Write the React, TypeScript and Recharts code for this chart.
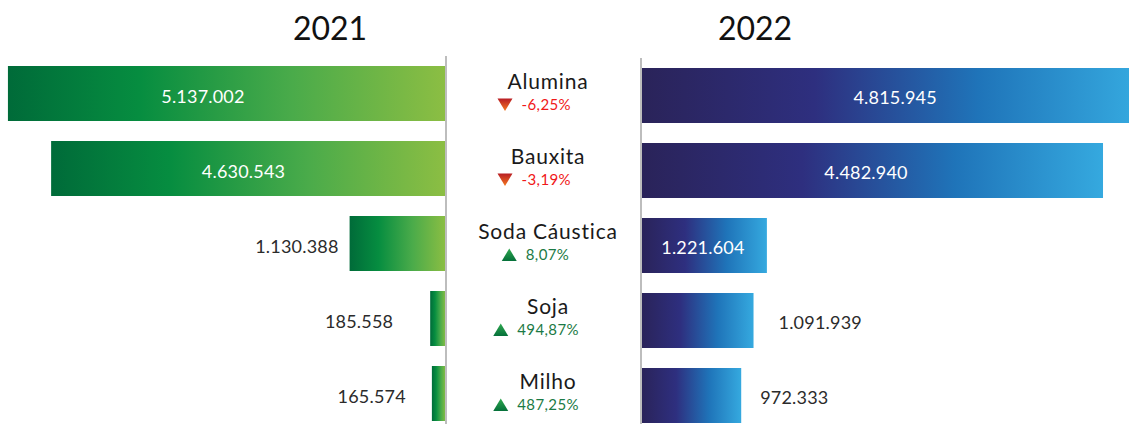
import React from 'react';
import { BarChart, Bar, XAxis, YAxis, LabelList } from 'recharts';

const categories = ['Alumina', 'Bauxita', 'Soda Cáustica', 'Soja', 'Milho'];
const values2021 = [5137002, 4630543, 1130388, 185558, 165574];
const values2022 = [4815945, 4482940, 1221604, 1091939, 972333];
const changes = [-6.25, -3.19, 8.07, 494.87, 487.25];
const yearLabels = ['2021', '2022'];

const DOMAIN_MAX = 5230000;
const FONT = 'Lato, "Open Sans", sans-serif';

const data = categories.map((name, i) => ({
  name,
  v2021: values2021[i],
  v2022: values2022[i],
  change: changes[i],
}));

const fmtNum = (v: number) => String(Math.round(v)).replace(/\B(?=(\d{3})+(?!\d))/g, '.');
const fmtPct = (v: number) => v.toFixed(2).replace('.', ',') + '%';

// label styling tweaks (per bar index)
const LEFT_IN_DX = [-24, -5, 0, 0, 0];
const RIGHT_IN_DX = [6, -6, -1, 0, 0];
const LEFT_OUT_GAP = [12, 12, 11, 37, 26];
const RIGHT_OUT_GAP = [25, 25, 25, 25, 19];
const INSIDE_MIN = 120;

const getBox = (p: any) => {
  const vb = p.viewBox || {};
  const x = p.x ?? vb.x;
  const y = p.y ?? vb.y;
  const w = p.width ?? vb.width;
  const h = p.height ?? vb.height;
  const left = Math.min(x, x + w);
  const right = Math.max(x, x + w);
  const top = Math.min(y, y + h);
  const bottom = Math.max(y, y + h);
  return { left, right, top, bottom };
};

const LeftLabel = (p: any) => {
  const { left, right, top, bottom } = getBox(p);
  const i = p.index ?? 0;
  const cy = (top + bottom) / 2 + 2;
  const w = right - left;
  if (w > INSIDE_MIN) {
    return (
      <text x={(left + right) / 2 + LEFT_IN_DX[i]} y={cy} textAnchor="middle" dominantBaseline="central"
        fill="#ffffff" fontSize={18} fontFamily={FONT} letterSpacing={0.2}>{fmtNum(p.value)}</text>
    );
  }
  return (
    <text x={left - LEFT_OUT_GAP[i]} y={cy} textAnchor="end" dominantBaseline="central"
      fill="#2b2b2b" fontSize={18} fontFamily={FONT} letterSpacing={0.2}>{fmtNum(p.value)}</text>
  );
};

const RightLabel = (p: any) => {
  const { left, right, top, bottom } = getBox(p);
  const i = p.index ?? 0;
  const cy = (top + bottom) / 2 + 1;
  const w = right - left;
  if (w > INSIDE_MIN) {
    return (
      <text x={(left + right) / 2 + RIGHT_IN_DX[i]} y={cy} textAnchor="middle" dominantBaseline="central"
        fill="#ffffff" fontSize={18} fontFamily={FONT} letterSpacing={0.2}>{fmtNum(p.value)}</text>
    );
  }
  return (
    <text x={right + RIGHT_OUT_GAP[i]} y={cy} textAnchor="start" dominantBaseline="central"
      fill="#2b2b2b" fontSize={18} fontFamily={FONT} letterSpacing={0.2}>{fmtNum(p.value)}</text>
  );
};

const CenterTick = (p: any) => {
  const { x, y, payload } = p;
  const i = categories.indexOf(payload.value);
  const ch = changes[i];
  const up = ch >= 0;
  const txt = fmtPct(ch);
  const cx = x + 102;
  const groupCenter = cx - 13;
  const textW = txt.length * 8.5;
  const triW = 15;
  const gap = 9;
  const total = triW + gap + textW;
  const gl = groupCenter - total / 2;
  const pb = y + 16; // percent baseline
  const triTop = pb - 11;
  const triBot = pb + 1.5;
  const tri = up
    ? `M${gl},${triBot} L${gl + triW},${triBot} L${gl + triW / 2},${triTop} Z`
    : `M${gl},${triTop} L${gl + triW},${triTop} L${gl + triW / 2},${triBot} Z`;
  return (
    <g>
      <text x={cx} y={y - 5} textAnchor="middle" fill="#1a1a1a" fontSize={21} letterSpacing={0.8} fontFamily={FONT}>{payload.value}</text>
      <path d={tri} fill={up ? 'url(#triUp)' : 'url(#triDown)'} />
      <text x={gl + triW + gap} y={pb} textAnchor="start" fill={up ? '#1b7a45' : '#f01818'} fontSize={15} letterSpacing={0.4} fontFamily={FONT}>{txt}</text>
    </g>
  );
};

export default function App() {
  return (
    <div style={{ position: 'absolute', left: 0, top: 0, width: 1129, height: 424, overflow: 'hidden', background: '#ffffff', fontFamily: FONT }}>
      <svg width={1129} height={60} style={{ position: 'absolute', left: 0, top: 0 }}>
        <text x={330} y={40} textAnchor="middle" fontSize={32} fill="#111" fontFamily={FONT}>{yearLabels[0]}</text>
        <text x={755} y={40} textAnchor="middle" fontSize={32} fill="#111" fontFamily={FONT}>{yearLabels[1]}</text>
      </svg>
      <div style={{ position: 'absolute', left: 0, top: 0 }}>
        <BarChart width={641} height={431} data={data} layout="vertical" barSize={55}
          margin={{ top: 56, right: 0, bottom: 0, left: 0 }}>
          <defs>
            <linearGradient id="gGreen" x1="0" y1="0" x2="1" y2="0">
              <stop offset="0%" stopColor="#006b39" />
              <stop offset="30%" stopColor="#068d40" />
              <stop offset="65%" stopColor="#4aab4a" />
              <stop offset="100%" stopColor="#8cbe43" />
            </linearGradient>
            <linearGradient id="triUp" x1="0" y1="0" x2="0" y2="1">
              <stop offset="0%" stopColor="#2fa84f" />
              <stop offset="100%" stopColor="#05703a" />
            </linearGradient>
            <linearGradient id="triDown" x1="0" y1="0" x2="0" y2="1">
              <stop offset="0%" stopColor="#b81d24" />
              <stop offset="100%" stopColor="#f47920" />
            </linearGradient>
          </defs>
          <XAxis type="number" domain={[0, DOMAIN_MAX]} reversed hide allowDataOverflow />
          <YAxis type="category" dataKey="name" orientation="right" width={195} interval={0}
            axisLine={{ stroke: '#bdbdbd', strokeWidth: 2 }} tickLine={false} tickSize={0} tickMargin={0}
            tick={<CenterTick />} />
          <Bar dataKey="v2021" fill="url(#gGreen)" isAnimationActive={false}>
            <LabelList dataKey="v2021" content={<LeftLabel />} />
          </Bar>
        </BarChart>
      </div>
      <div style={{ position: 'absolute', left: 640, top: 0 }}>
        <BarChart width={540} height={433} data={data} layout="vertical" barSize={55}
          margin={{ top: 58, right: 0, bottom: 0, left: 0 }}>
          <defs>
            <linearGradient id="gBlue" x1="0" y1="0" x2="1" y2="0">
              <stop offset="0%" stopColor="#2a2359" />
              <stop offset="35%" stopColor="#2e2f7f" />
              <stop offset="68%" stopColor="#1f74b9" />
              <stop offset="100%" stopColor="#35a9df" />
            </linearGradient>
          </defs>
          <XAxis type="number" domain={[0, DOMAIN_MAX]} hide allowDataOverflow />
          <YAxis type="category" dataKey="name" orientation="left" width={1} interval={0}
            axisLine={{ stroke: '#bdbdbd', strokeWidth: 2 }} tickLine={false} tick={false} />
          <Bar dataKey="v2022" fill="url(#gBlue)" isAnimationActive={false}>
            <LabelList dataKey="v2022" content={<RightLabel />} />
          </Bar>
        </BarChart>
      </div>
    </div>
  );
}
